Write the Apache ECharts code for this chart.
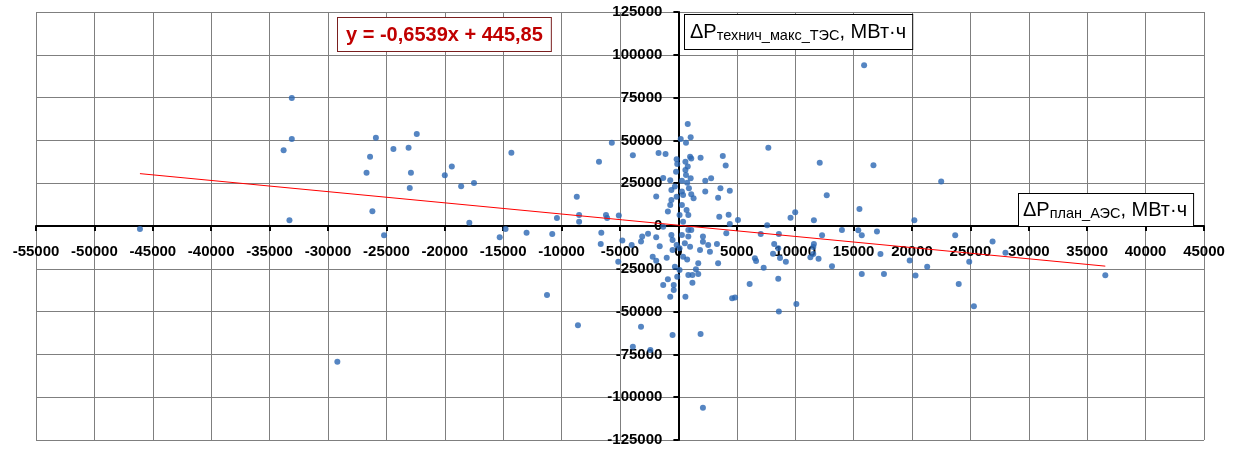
<!DOCTYPE html>
<html>
<head>
<meta charset="utf-8">
<script src="https://cdn.jsdelivr.net/npm/echarts@6/dist/echarts.min.js"></script>
<style>
  html, body { margin: 0; padding: 0; background: #ffffff; }
  #chart { width: 1237px; height: 450px; }
</style>
</head>
<body>
<div id="chart"></div>
<script>
// ΔP plan of the nuclear plants (x) vs ΔP max technical of the thermal plants (y), MWh
const dPlanAES = [
  -46100, -33100, -33100, -33800, -33300, -29200, -25900, -26400, -26700, -26200,
  -25200, -24400, -23100, -22900, -23000, -22400, -20000, -19400, -18600, -17500,
  -17900, -14300, -14800, -15300, -13000, -10800, -10400, -11250, -8700, -8500,
  -8500, -8600, -6800, -5700, -6200, -6100, -5100, -6600, -6650, -5150,
  -4800, -3900, -4000, -3100, -2600, -3200, -3200, -3900, -2400, -1700,
  -1100, -1900, -1300, -700, -2200, -1900, -1600, -1900, -1000, -900,
  -1300, -400, -400, -700, -500, -1300, -700, -900, -600, -300,
  -600, -150, -150, -100, -200, -500, -600, -300, -150, -500,
  200, 800, 1050, 650, 600, 1000, 1100, 1900, 800, 600,
  650, 1050, 300, 750, 900, 300, 400, 2300, 2800, 2300,
  3600, 4400, 3400, 3800, 4050, 3500, 4300, 4400, 5100, 300,
  700, 100, 850, 400, 1300, 1100, 850, 300, 850, 550,
  100, 400, 1000, 1100, 750, 100, 1500, 1700, 850, 1200,
  1700, 1200, 600, -100, 2100, 2100, 2550, 1850, 2700, 3300,
  3400, 4100, 6100, 4600, 4850, 1900, 2100,
  7700, 7600, 9600, 10000, 11600, 12100, 16700, 12700, 15500, 15900,
  22500, 20200, 14000, 15400, 15700, 17000, 12300, 8600, 7050, 8200,
  8550, 11600, 11550, 11300, 11550, 12000, 8100, 8700, 9200, 6550,
  6650, 7300, 13150, 17300, 15700, 17600, 8550, 8600, 10100, 19800,
  20300, 21300, 23700, 24000, 24900, 25300, 26900, 28000, 36550
];
const dTechMaxTES = [
  -1800, 74800, 50800, 44200, 3300, -79300, 51600, 40500, 31100, 8600,
  -5400, 45000, 45700, 31100, 22200, 53700, 29600, 34700, 23200, 25100,
  1900, 42800, -1800, -6600, -3900, -4700, 4700, -40300, 17100, 6400,
  2500, -58000, 37600, 48600, 6400, 4700, 6200, -3900, -10500, -20900,
  -8400, 41300, -11100, -6200, -4500, -9000, -58800, -70500, -72400, 42700,
  42100, 17300, 28100, 26700, -17900, -6600, -11900, -20300, -18600, -31100,
  -34500, -34500, -37400, -41300, -63700, -400, 12300, 8400, 15200, 23000,
  21000, 17100, 39000, 36200, 31700, -14000, -5300, -23800, -11100, -8200,
  50800, 59600, 51800, 48700, 37600, 40500, 39500, 39900, 34700, 32700,
  29800, 27900, 26500, 25300, 22000, 20100, 18100, 26500, 27900, 20100,
  22000, 20600, 16500, 40900, 35400, 5400, 6600, 1100, 3500, 12300,
  9300, 6400, 6400, 2500, 16200, 18500, -2300, -5300, -6200, -10100,
  -13000, -17900, -12100, -2300, -19500, -25700, -25300, -21800, -28600, -28600,
  -28000, -33100, -41300, -29600, -6200, -9200, -11100, -14000, -15000, -10500,
  -21800, -4300, -33900, -42200, -41700, -63100, -106100,
  45700, 500, 4800, 8000, 3400, 37000, 35500, 17900, 9900, 93900,
  26000, 3300, -2300, -2500, -5400, -3200, -5400, -4700, -4700, -10500,
  -13000, -10500, -12300, -18200, -16400, -19200, -16200, -18700, -20900, -18900,
  -20400, -24400, -23500, -16400, -28000, -28000, -30800, -50000, -45600, -20100,
  -28900, -23800, -5400, -33900, -20900, -46900, -9100, -15600, -28800
];

// Linear trend fitted to the cloud
const trendSlope = -0.6539;
const trendIntercept = 445.85;

// Axis ranges and tick steps
const xAxisRange = [-55000, 45000];
const xTickStep = 5000;
const yAxisRange = [-125000, 125000];
const yTickStep = 25000;

// Axis titles (main symbol, subscript, units)
const yTitleParts = ['ΔP', 'технич_макс_ТЭС', ', МВт·ч'];
const xTitleParts = ['ΔP', 'план_АЭС', ', МВт·ч'];

const points = dPlanAES.map((x, i) => [x, dTechMaxTES[i]]);
const xMin = Math.min(...dPlanAES);
const xMax = Math.max(...dPlanAES);
const trendPoints = [xMin, xMax].map(x => [x, trendSlope * x + trendIntercept]);

const fmtNum = v => String(v).replace('.', ',');
const equationText = 'y = ' + fmtNum(trendSlope) + 'x + ' + fmtNum(trendIntercept);

const FONT = '"Liberation Sans", Arial, sans-serif';

// Plot area
const W = 1237, H = 450;
const GRID = { left: 36, right: 33, top: 12, bottom: 10 };
const plotW = W - GRID.left - GRID.right;
const plotH = H - GRID.top - GRID.bottom;
// Shift each axis from the plot edge onto the other axis's zero
const xAxisOffset = -plotH * (0 - yAxisRange[0]) / (yAxisRange[1] - yAxisRange[0]);
const yAxisOffset = -plotW * (0 - xAxisRange[0]) / (xAxisRange[1] - xAxisRange[0]);

const titleRich = {
  big: { fontSize: 20, fontFamily: FONT, fill: '#000', lineHeight: 22 },
  sub: { fontSize: 14.5, fontFamily: FONT, fill: '#000', lineHeight: 22, verticalAlign: 'bottom', padding: [1, 0, 0, 0] }
};
const richTitle = parts => '{big|' + parts[0] + '}{sub|' + parts[1] + '}{big|' + parts[2] + '}';

const axisLabelStyle = {
  color: '#000', fontWeight: 'bold', fontSize: 15, fontFamily: FONT,
  formatter: v => String(v)
};

const gridLine = { show: true, lineStyle: { color: '#7f7f7f', width: 1 } };

const chart = echarts.init(document.getElementById('chart'), null, { renderer: 'canvas' });

chart.setOption({
  animation: false,
  backgroundColor: '#ffffff',
  grid: Object.assign({ containLabel: false, outerBoundsMode: 'none' }, GRID),
  xAxis: {
    type: 'value',
    position: 'bottom',
    offset: xAxisOffset,
    min: xAxisRange[0],
    max: xAxisRange[1],
    interval: xTickStep,
    axisLine: { show: true, onZero: false, lineStyle: { color: '#000', width: 2 } },
    axisTick: { show: true, inside: false, length: 5, lineStyle: { color: '#000', width: 2 } },
    axisLabel: Object.assign({ margin: 18, hideOverlap: false }, axisLabelStyle),
    splitLine: gridLine
  },
  yAxis: {
    type: 'value',
    position: 'left',
    offset: yAxisOffset,
    min: yAxisRange[0],
    max: yAxisRange[1],
    interval: yTickStep,
    axisLine: { show: true, onZero: false, lineStyle: { color: '#000', width: 2 } },
    axisTick: { show: true, inside: false, length: 5, lineStyle: { color: '#000', width: 2 } },
    axisLabel: Object.assign({ margin: 16, hideOverlap: false }, axisLabelStyle),
    splitLine: gridLine
  },
  series: [
    {
      type: 'scatter',
      data: points,
      symbol: 'circle',
      symbolSize: 6,
      itemStyle: { color: '#2a67b3' },
      z: 3
    },
    {
      type: 'line',
      data: trendPoints,
      showSymbol: false,
      symbol: 'none',
      lineStyle: { color: '#ff0000', width: 1 },
      z: 4
    }
  ],
  graphic: [
    {
      type: 'text',
      left: 337,
      top: 17,
      z: 10,
      style: {
        text: equationText,
        font: 'bold 20px ' + FONT,
        fill: '#c00000',
        backgroundColor: '#ffffff',
        borderColor: '#7a1f1f',
        borderWidth: 1,
        padding: [7, 8, 6, 8]
      }
    },
    {
      type: 'text',
      left: 684,
      top: 14,
      z: 10,
      style: {
        text: richTitle(yTitleParts),
        rich: titleRich,
        backgroundColor: '#ffffff',
        borderColor: '#000000',
        borderWidth: 1,
        padding: [6, 6, 6, 5]
      }
    },
    {
      type: 'text',
      left: 1018,
      top: 193,
      z: 10,
      style: {
        text: richTitle(xTitleParts),
        rich: titleRich,
        backgroundColor: '#ffffff',
        borderColor: '#000000',
        borderWidth: 1,
        padding: [5, 6, 5, 4]
      }
    }
  ]
});
</script>
</body>
</html>
